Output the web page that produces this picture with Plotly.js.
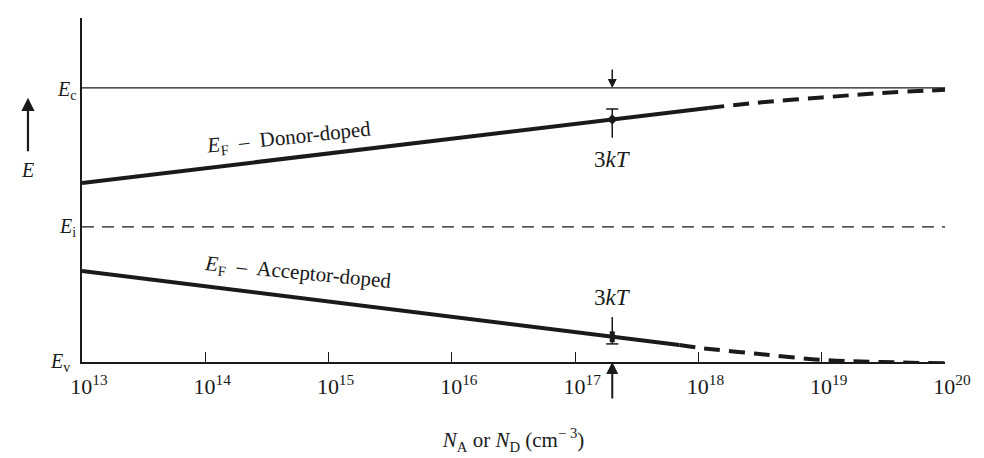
<!DOCTYPE html>
<html>
<head>
<meta charset="utf-8">
<script src="https://cdn.plot.ly/plotly-3.0.1.min.js"></script>
<style>html,body{margin:0;padding:0;background:#fff;}#chart{width:984px;height:458px;}</style>
</head>
<body>
<div id="chart"></div>
<script>
// Concentration axis (cm^-3) and energies normalized: Ev = 0, Ec = 1
var tickValues = [1e13, 1e14, 1e15, 1e16, 1e17, 1e18, 1e19, 1e20];
var tickLabels = ["10<sup>13</sup>", "10<sup>14</sup>", "10<sup>15</sup>", "10<sup>16</sup>",
                  "10<sup>17</sup>", "10<sup>18</sup>", "10<sup>19</sup>", "10<sup>20</sup>"];
var bandN = [1e13, 1e20];
var Ec = [1, 1];
var Ei = [0.493, 0.493];

var donorSolidN = [1e13, 1.2e18];
var donorSolidE = [0.653, 0.927];
var donorDashN = [1.2e18, 3e18, 1e19, 3e19, 1e20];
var donorDashE = [0.927, 0.946, 0.965, 0.981, 0.993];

var accSolidN = [1e13, 7e17];
var accSolidE = [0.332, 0.062];
var accDashN = [7e17, 1e18, 3e18, 1e19, 3e19, 1e20];
var accDashE = [0.062, 0.052, 0.030, 0.008, 0.0, -0.005];

var markN = 2e17;                 // position of the 3kT markers
var donorMarkE = 0.885;
var donorBarE = [0.818, 0.923];
var accMarkE = 0.092;
var accBarE = [0.066, 0.164];
var capN = [2e17 / 1.12, 2e17 * 1.12];

var serif = "Liberation Serif, Times New Roman, serif";
var ink = "#1a1a1a";

var traces = [
  {x: bandN, y: Ec, mode: "lines", line: {color: ink, width: 1.4}, hoverinfo: "skip"},
  {x: bandN, y: Ei, mode: "lines", line: {color: ink, width: 1.4, dash: "12px,8px"}, hoverinfo: "skip"},
  {x: donorSolidN, y: donorSolidE, mode: "lines", line: {color: ink, width: 4}},
  {x: donorDashN, y: donorDashE, mode: "lines", line: {color: ink, width: 4, dash: "16px,9px", shape: "spline"}},
  {x: accSolidN, y: accSolidE, mode: "lines", line: {color: ink, width: 4}},
  {x: accDashN, y: accDashE, mode: "lines", line: {color: ink, width: 4, dash: "16px,9px", shape: "spline"}},
  // 3kT bars
  {x: [markN, markN], y: donorBarE, mode: "lines", line: {color: ink, width: 1.5}},
  {x: capN, y: [donorBarE[1], donorBarE[1]], mode: "lines", line: {color: ink, width: 1.5}},
  {x: [markN], y: [donorMarkE], mode: "markers", marker: {symbol: "diamond", size: 8, color: ink}},
  {x: [markN, markN], y: accBarE, mode: "lines", line: {color: ink, width: 1.5}},
  {x: capN, y: [accBarE[0], accBarE[0]], mode: "lines", line: {color: ink, width: 1.5}},
  {x: [markN, markN], y: [accMarkE - 0.02, accMarkE + 0.02], mode: "lines", line: {color: ink, width: 5}}
];

var lx = Math.log10(markN);
var annotations = [
  {x: lx, y: 1, xref: "x", yref: "y", text: "", showarrow: true, ax: 0, ay: -20,
   arrowhead: 2, arrowsize: 1.2, arrowwidth: 1.5, arrowcolor: ink},
  {x: lx, y: 0, xref: "x", yref: "y", text: "", showarrow: true, ax: 0, ay: 38,
   arrowhead: 2, arrowsize: 1.2, arrowwidth: 2, arrowcolor: ink},
  {x: -0.0626, y: 0.964, xref: "paper", yref: "y", text: "", showarrow: true, ax: 0, ay: 55,
   arrowhead: 2, arrowsize: 1.2, arrowwidth: 2.2, arrowcolor: ink},
  {x: -0.0626, y: 0.70, xref: "paper", yref: "y", text: "<i>E</i>", showarrow: false,
   xanchor: "center", font: {family: serif, size: 20, color: ink}},
  {x: -0.005, y: 0.99, xref: "paper", yref: "y", text: "<i>E</i><sub>c</sub>", showarrow: false,
   xanchor: "right", font: {family: serif, size: 20, color: ink}},
  {x: -0.005, y: 0.49, xref: "paper", yref: "y", text: "<i>E</i><sub>i</sub>", showarrow: false,
   xanchor: "right", font: {family: serif, size: 20, color: ink}},
  {x: -0.012, y: 0.0, xref: "paper", yref: "y", text: "<i>E</i><sub>v</sub>", showarrow: false,
   xanchor: "right", font: {family: serif, size: 20, color: ink}},
  {x: 14.68, y: 0.818, xref: "x", yref: "y", text: "<i>E</i><sub>F</sub>  \u2013  Donor-doped",
   showarrow: false, textangle: -6, font: {family: serif, size: 21, color: ink}},
  {x: 14.75, y: 0.325, xref: "x", yref: "y", text: "<i>E</i><sub>F</sub>  \u2013  Acceptor-doped",
   showarrow: false, textangle: 5.5, font: {family: serif, size: 21, color: ink}},
  {x: lx, y: 0.737, xref: "x", yref: "y", text: "3<i>kT</i>", showarrow: false,
   font: {family: serif, size: 23, color: ink}},
  {x: lx, y: 0.234, xref: "x", yref: "y", text: "3<i>kT</i>", showarrow: false,
   font: {family: serif, size: 23, color: ink}}
];

var layout = {
  width: 984, height: 458,
  margin: {l: 82, r: 39, t: 18, b: 96},
  paper_bgcolor: "#fff", plot_bgcolor: "#fff",
  showlegend: false,
  xaxis: {
    type: "log", range: [13, 20],
    showline: true, linecolor: ink, linewidth: 2,
    ticks: "inside", ticklen: 10, tickwidth: 1, tickcolor: ink,
    tickvals: tickValues, ticktext: tickLabels,
    ticklabelshift: 7, ticklabelstandoff: 4,
    tickfont: {family: serif, size: 22, color: ink},
    showgrid: false, zeroline: false,
    title: {text: "<i>N</i><sub>A</sub> or <i>N</i><sub>D</sub> (cm<sup>\u2212 3</sup>)",
            font: {family: serif, size: 21, color: ink}, standoff: 34}
  },
  yaxis: {
    range: [0, 1.255],
    showline: true, linecolor: ink, linewidth: 2,
    ticks: "", showticklabels: false, showgrid: false, zeroline: false
  },
  annotations: annotations
};

Plotly.newPlot("chart", traces, layout, {displayModeBar: false, staticPlot: true});
</script>
</body>
</html>
